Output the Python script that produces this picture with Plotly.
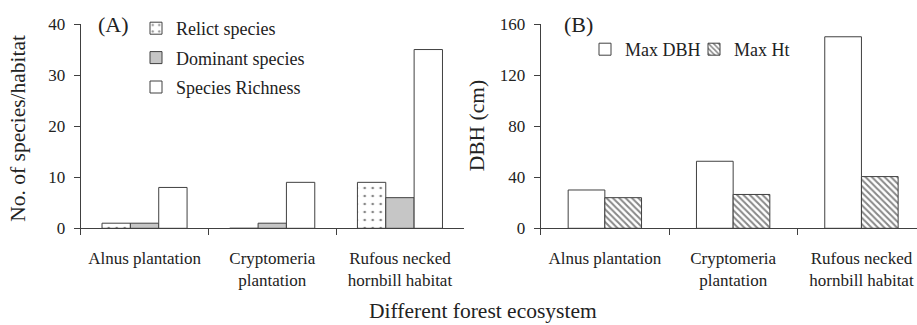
import plotly.graph_objects as go

W, H = 917, 325

# Data
habitats = ["Alnus plantation", "Cryptomeria<br>plantation", "Rufous necked<br>hornbill habitat"]
relict_species = [1, 0, 9]
dominant_species = [1, 1, 6]
species_richness = [8, 9, 35]
max_dbh = [30, 52.5, 150]
max_ht = [24, 26.5, 40.5]

FONT = "Liberation Serif, Times New Roman, serif"
INK = "#222222"
LINE = "#404040"


def px_x(x):
    return x / W


def px_y(y):
    return 1 - y / H


fig = go.Figure()

# Panel A: species counts per habitat
w_a = 0.222
fig.add_trace(go.Bar(
    x=habitats, y=relict_species, name="Relict species", legendgroup="a1",
    width=w_a, offset=-1.5 * w_a,
    marker=dict(color="white", line=dict(color=LINE, width=1),
                pattern=dict(shape=".", fgcolor="#111", bgcolor="white", size=8, solidity=0.09)),
    xaxis="x", yaxis="y", legend="legend",
))
fig.add_trace(go.Bar(
    x=habitats, y=dominant_species, name="Dominant species", legendgroup="a2",
    width=w_a, offset=-0.5 * w_a,
    marker=dict(color="#c6c6c6", line=dict(color=LINE, width=1)),
    xaxis="x", yaxis="y", legend="legend",
))
fig.add_trace(go.Bar(
    x=habitats, y=species_richness, name="Species Richness", legendgroup="a3",
    width=w_a, offset=0.5 * w_a,
    marker=dict(color="white", line=dict(color=LINE, width=1)),
    xaxis="x", yaxis="y", legend="legend",
))

# Panel B: maximum DBH and height
w_b = 0.286
fig.add_trace(go.Bar(
    x=habitats, y=max_dbh, name="Max DBH",
    width=w_b, offset=-w_b,
    marker=dict(color="white", line=dict(color=LINE, width=1)),
    xaxis="x2", yaxis="y2", legend="legend2",
))
fig.add_trace(go.Bar(
    x=habitats, y=max_ht, name="Max Ht",
    width=w_b, offset=0,
    marker=dict(color="white", line=dict(color=LINE, width=1),
                pattern=dict(shape="\\", fgcolor="#111", bgcolor="white", size=4.5, solidity=0.45)),
    xaxis="x2", yaxis="y2", legend="legend2",
))

ydom = [px_y(228.3), px_y(24)]
tickfont = dict(family=FONT, size=17, color=INK)

xaxis_common = dict(
    type="category", showline=True, linecolor=LINE, linewidth=1,
    ticks="outside", tickson="boundaries", ticklen=6, tickcolor=LINE,
    tickfont=tickfont, showgrid=False, zeroline=False, fixedrange=True,
    automargin=False, ticklabelstandoff=14,
)
yaxis_common = dict(
    showline=True, linecolor=LINE, linewidth=1, ticks="outside", ticklen=6,
    tickcolor=LINE, tickfont=tickfont, showgrid=False, zeroline=False,
    automargin=False, ticklabelstandoff=5,
)


def label(text, x, y, size, angle=0):
    return dict(text=text, x=px_x(x), y=px_y(y), xref="paper", yref="paper",
                xanchor="center", yanchor="middle", textangle=angle,
                showarrow=False, font=dict(family=FONT, size=size, color=INK))


fig.update_layout(
    width=W, height=H, autosize=False,
    margin=dict(l=0, r=0, t=0, b=0, autoexpand=False),
    paper_bgcolor="white", plot_bgcolor="white",
    font=dict(family=FONT, color=INK),
    barmode="group", showlegend=True,
    xaxis=dict(domain=[px_x(80.7), px_x(463.8)], range=[-0.5, 2.5], anchor="y", **xaxis_common),
    yaxis=dict(domain=ydom, range=[0, 40], dtick=10, anchor="x", **yaxis_common),
    xaxis2=dict(domain=[px_x(540.7), 1.0], range=[-0.5, -0.5 + (917 - 540.7) / 128.3],
                anchor="y2", **xaxis_common),
    yaxis2=dict(domain=ydom, range=[0, 160], dtick=40, anchor="x2", **yaxis_common),
    legend=dict(
        x=px_x(136), y=px_y(10), xanchor="left", yanchor="top",
        bgcolor="rgba(0,0,0,0)", font=dict(family=FONT, size=18, color=INK),
        orientation="v", itemclick=False, tracegroupgap=3,
    ),
    legend2=dict(
        x=px_x(585), y=px_y(31), xanchor="left", yanchor="top",
        bgcolor="rgba(0,0,0,0)", font=dict(family=FONT, size=18, color=INK),
        orientation="h", itemclick=False, entrywidth=64, entrywidthmode="pixels",
    ),
    annotations=[
        label("(A)", 113, 24, 22),
        label("(B)", 578, 24, 22),
        label("No. of species/habitat", 18.5, 128.3, 21.5, -90),
        label("DBH (cm)", 476.5, 125.8, 21.5, -90),
        label("Different forest ecosystem", 482.5, 311, 21.5),
    ],
)

fig.write_html("out.html")
